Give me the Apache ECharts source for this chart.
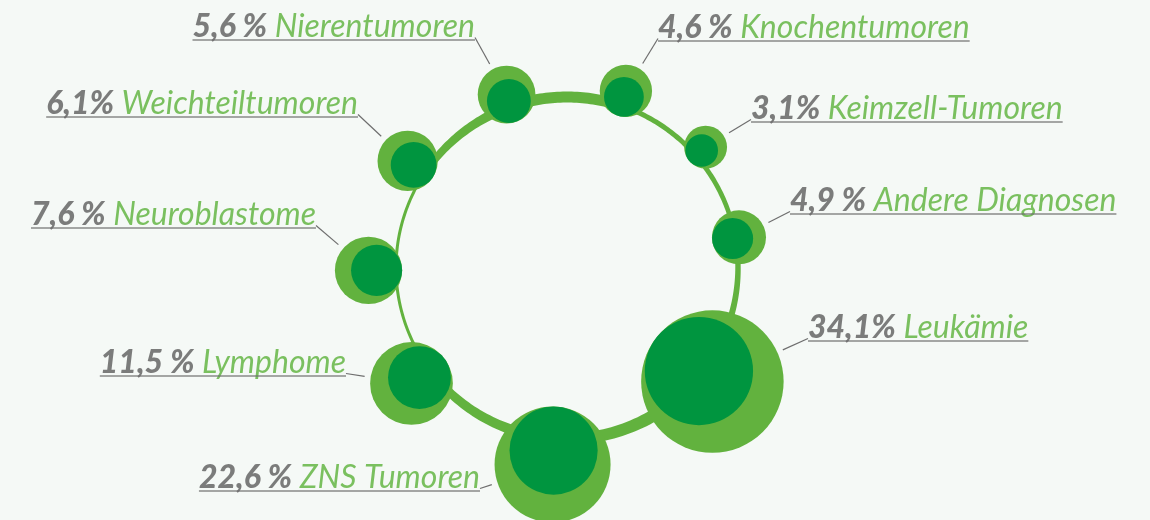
<!DOCTYPE html>
<html>
<head>
<meta charset="utf-8">
<style>
html, body { margin: 0; padding: 0; background: #f5f9f6; }
#main { width: 1150px; height: 520px; }
</style>
<script src="https://cdn.jsdelivr.net/npm/echarts@6/dist/echarts.min.js"></script>
</head>
<body>
<div id="main"></div>
<script>
var myChart = echarts.init(document.getElementById('main'));

// Diagnosen, im Uhrzeigersinn ab oben links
var names = ['Nierentumoren', 'Knochentumoren', 'Keimzell-Tumoren', 'Andere Diagnosen', 'Leukämie', 'ZNS Tumoren', 'Lymphome', 'Neuroblastome', 'Weichteiltumoren'];
var shares = [5.6, 4.6, 3.1, 4.9, 34.1, 22.6, 11.5, 7.6, 6.1];
var shareLabels = ['5,6 %', '4,6 %', '3,1%', '4,9 %', '34,1%', '22,6 %', '11,5 %', '7,6 %', '6,1%'];

// Lage der Blasen (Winkel ab 12 Uhr, Abstand vom Ringmittelpunkt)
var angles = [340.8, 18.4, 48.9, 79.9, 128.0, 184.2, 233.4, 269.3, 303.9];
var dists = [183.7, 186.6, 183.9, 174.7, 184.5, 197, 193.7, 198.5, 192];
// Ringstaerke je Abschnitt (von Blase i zur naechsten)
var ringWidth = [[11, 11], [5, 5], [5, 4.5], [5, 7], [13, 11], [11, 8], [3, 3], [3, 3], [7, 10]];
// Ende der Unterstreichung [x, y, Ausrichtung]
var labelPos = [[475, 40, 'right'], [658, 41, 'left'], [751, 122, 'left'], [790, 214, 'left'], [808, 341, 'left'],
  [480, 491, 'right'], [346, 376, 'right'], [316, 228, 'right'], [358, 117, 'right']];

var RING = 171;       // Ringradius
var K = 12.2;         // Blasenradius = K * sqrt(Anteil)
var INNER = 0.76;     // innerer Kreis relativ zum aeusseren
var LIGHT = '#62b23e';
var DARK = '#00953f';

var outerData = shares.map(function (v, i) { return [dists[i], angles[i], v]; });
var innerData = shares.map(function (v, i) {
  return [dists[i] - (1 - INNER) * K * Math.sqrt(v), angles[i], v];
});
var ringData = angles.map(function (a, i) {
  var b = angles[(i + 1) % angles.length];
  if (b < a) b += 360;
  return [a, b, ringWidth[i][0], ringWidth[i][1]];
});

var option = {
  backgroundColor: '#f5f9f6',
  animation: false,
  polar: { center: [567, 268], radius: 200 },
  radiusAxis: { type: 'value', min: 0, max: 200, show: false },
  angleAxis: { type: 'value', min: 0, max: 360, startAngle: 90, clockwise: true, show: false },
  series: [{
    // Ring
    type: 'custom',
    coordinateSystem: 'polar',
    silent: true,
    data: ringData,
    renderItem: function (params, api) {
      var a0 = api.value(0), a1 = api.value(1), w0 = api.value(2), w1 = api.value(3);
      var outer = [], inner = [];
      for (var k = 0; k <= 40; k++) {
        var t = k / 40, a = a0 + (a1 - a0) * t, w = w0 + (w1 - w0) * t;
        outer.push(api.coord([RING + w / 2, a]));
        inner.unshift(api.coord([RING - w / 2, a]));
      }
      return { type: 'polygon', shape: { points: outer.concat(inner) }, style: { fill: LIGHT } };
    }
  }, {
    // aeussere Blasen
    type: 'scatter',
    coordinateSystem: 'polar',
    silent: true,
    data: outerData,
    symbolSize: function (val) { return 2 * K * Math.sqrt(val[2]); },
    itemStyle: { color: LIGHT, opacity: 1 }
  }, {
    // innere Blasen
    type: 'scatter',
    coordinateSystem: 'polar',
    silent: true,
    data: innerData,
    symbolSize: function (val) { return 2 * INNER * K * Math.sqrt(val[2]); },
    itemStyle: { color: DARK, opacity: 1 }
  }, {
    // unsichtbare Traeger fuer Beschriftung + Linie
    type: 'scatter',
    coordinateSystem: 'polar',
    silent: true,
    data: outerData,
    symbolSize: function (val) { return 2 * K * Math.sqrt(val[2]) + 12; },
    itemStyle: { color: 'rgba(0,0,0,0)' },
    label: {
      show: true,
      fontFamily: 'Lato',
      fontStyle: 'italic',
      fontSize: 32,
      lineHeight: 22,
      formatter: function (p) {
        var i = p.dataIndex;
        return '{p|' + shareLabels[i] + '} {n|' + names[i] + '}\n{hr|}\n{sp| }';
      },
      rich: {
        p: { fontFamily: 'Lato', fontStyle: 'italic', fontWeight: 900, fontSize: 32, lineHeight: 22, color: '#5c5c5c' },
        n: { fontFamily: 'Lato', fontStyle: 'italic', fontWeight: 'normal', fontSize: 32, lineHeight: 22, color: '#5bb13a' },
        hr: { backgroundColor: '#6e6e6e', width: '100%', height: 1.5, lineHeight: 4 },
        sp: { fontSize: 10, lineHeight: 22 }
      }
    },
    labelLayout: function (params) {
      var lp = labelPos[params.dataIndex];
      return { x: lp[0], y: lp[1], align: lp[2], verticalAlign: 'middle' };
    },
    labelLine: {
      show: true,
      length2: 0,
      lineStyle: { color: '#6e6e6e', width: 1.2 }
    }
  }]
};

myChart.setOption(option);
</script>
</body>
</html>
